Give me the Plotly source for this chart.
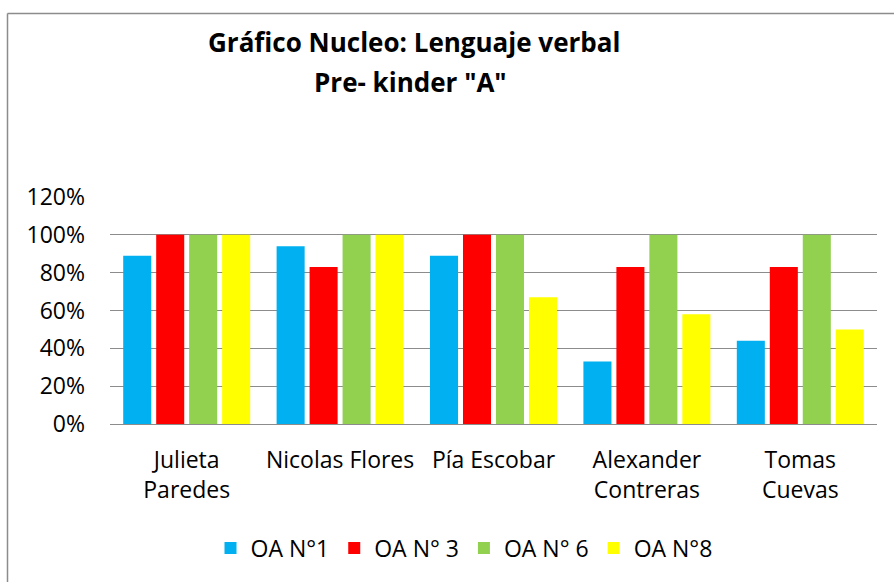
import plotly.graph_objects as go

categories = ["Julieta<br>Paredes", "Nicolas Flores", "Pía Escobar", "Alexander<br>Contreras", "Tomas<br>Cuevas"]
series_names = ["OA N°1", "OA N° 3", "OA N° 6", "OA N°8"]
oa1 = [0.89, 0.94, 0.89, 0.33, 0.44]
oa3 = [1.00, 0.83, 1.00, 0.83, 0.83]
oa6 = [1.00, 1.00, 1.00, 1.00, 1.00]
oa8 = [1.00, 1.00, 0.67, 0.58, 0.50]
colors = ["#00B0F0", "#FF0000", "#92D050", "#FFFF00"]
y_ticks = [0, 0.2, 0.4, 0.6, 0.8, 1.0, 1.2]

FONT = "Open Sans, sans-serif"

W, H = 894, 582
L, R, T, B = 110, 17, 197, 158
pw, ph = W - L - R, H - T - B

def px(x):
    return (x - L) / pw

def py(y):
    return (H - B - y) / ph

fig = go.Figure()
for name, vals, c in zip(series_names, [oa1, oa3, oa6, oa8], colors):
    fig.add_trace(go.Bar(x=categories, y=vals, name=name, marker=dict(color=c, line=dict(width=0))))

fig.update_layout(
    width=W, height=H,
    margin=dict(l=L, r=R, t=T, b=B, autoexpand=False),
    paper_bgcolor="white", plot_bgcolor="white",
    barmode="group", bargap=0.14, bargroupgap=0.15,
    font=dict(family=FONT, color="#000000", size=23),
    showlegend=True,
    legend=dict(orientation="h", x=px(464), xanchor="center", y=py(548), yanchor="middle",
                font=dict(size=23, family=FONT), traceorder="normal", itemwidth=30),
    xaxis=dict(showgrid=False, showline=False, ticks="", tickfont=dict(size=23, family=FONT),
               ticklabelstandoff=20),
    yaxis=dict(range=[0, 1.2], tickvals=y_ticks, tickformat=".0%", showgrid=True,
               gridcolor="#8C8C8C", gridwidth=1, zeroline=True, zerolinecolor="#8C8C8C",
               zerolinewidth=1, showline=False, ticks="", tickfont=dict(size=23, family=FONT),
               ticklabelstandoff=24),
    annotations=[
        dict(text="<b>Gráfico Nucleo: Lenguaje verbal</b>", x=px(414), y=py(42), xref="paper", yref="paper",
             showarrow=False, xanchor="center", yanchor="middle", font=dict(size=26, family=FONT)),
        dict(text="<b>Pre- kinder \"A\"</b>", x=px(410), y=py(82), xref="paper", yref="paper",
             showarrow=False, xanchor="center", yanchor="middle", font=dict(size=26, family=FONT)),
    ],
    shapes=[
        dict(type="line", xref="paper", yref="paper", x0=px(7.5), x1=px(900), y0=py(13.5), y1=py(13.5),
             line=dict(color="#8C8C8C", width=1.5)),
        dict(type="line", xref="paper", yref="paper", x0=px(7.5), x1=px(7.5), y0=py(13.5), y1=py(600),
             line=dict(color="#8C8C8C", width=1.5)),
    ],
)

fig.write_html("out.html", config={"displayModeBar": False},
               post_script="document.body.style.margin='0';document.body.style.overflow='hidden';")
